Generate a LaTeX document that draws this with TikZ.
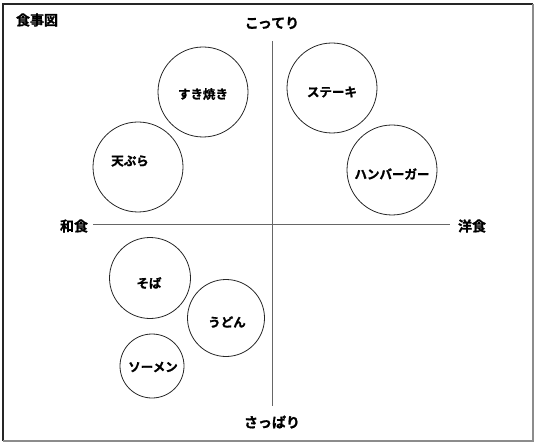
\documentclass[tikz,border=0pt]{standalone}
\usepackage{fontspec}
\setmainfont{Noto Sans CJK JP Bold}[FakeBold=1.2]
\begin{document}
\begin{tikzpicture}[x=1bp,y=-1bp,
  food/.style={circle,draw=black!85,line width=0.8bp,inner sep=0pt},
  foodtext/.style={font=\fontsize{12.5bp}{14bp}\selectfont,inner sep=0pt},
  axislabel/.style={font=\fontsize{14bp}{16bp}\selectfont,inner sep=0pt},
  axisline/.style={draw=black!60,line width=1bp}]
\useasboundingbox (0,0) rectangle (540,447);
% frame
\draw[black!85,line width=1.5bp] (3,441) -- (3,4) -- (533,4);
\draw[black!45,line width=2bp] (533,4) -- (533,441) -- (3,441);
% title
\node[axislabel] (title) at (37,20) {食事図};
% axes
\coordinate (top) at (272,41);
\coordinate (bottom) at (272,406);
\coordinate (left) at (93,225);
\coordinate (right) at (450,225);
\draw[axisline] (top) -- (bottom);
\draw[axisline] (left) -- (right);
\node[axislabel] (kotteri) at (272,23) {こってり};
\node[axislabel] (sappari) at (272,422) {さっぱり};
\node[axislabel] (washoku) at (74,226) {和食};
\node[axislabel] (yoshoku) at (472,226) {洋食};
% foods
\node[food,minimum size=90bp] (sukiyaki) at (203,92) {};
\node[foodtext] (sukiyakiT) at (203,94) {すき焼き};
\node[food,minimum size=90bp] (tempura) at (138,167) {};
\node[foodtext] (tempuraT) at (130,161) {天ぷら};
\node[food,minimum size=90bp] (steak) at (332,88) {};
\node[foodtext] (steakT) at (332,92) {ステーキ};
\node[food,minimum size=90bp] (burger) at (392,170) {};
\node[foodtext] (burgerT) at (392,174) {ハンバーガー};
\node[food,minimum size=81bp] (soba) at (150,278) {};
\node[foodtext] (sobaT) at (149,283) {そば};
\node[food,minimum size=77bp] (udon) at (226,318) {};
\node[foodtext] (udonT) at (227,322) {うどん};
\node[food,minimum size=64bp] (somen) at (152,366) {};
\node[foodtext] (somenT) at (153,367) {ソーメン};
\end{tikzpicture}
\end{document}
